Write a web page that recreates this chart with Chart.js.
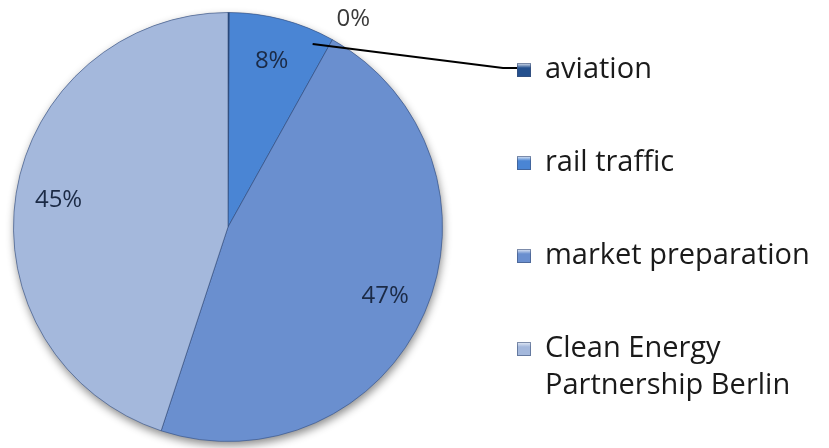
<!DOCTYPE html>
<html>
<head>
<meta charset="utf-8">
<script src="https://cdn.jsdelivr.net/npm/chart.js@4/dist/chart.umd.min.js"></script>
<style>
  html, body { margin: 0; padding: 0; background: #fff; }
  #wrap { width: 829px; height: 448px; }
</style>
</head>
<body>
<div id="wrap"><canvas id="chart" width="829" height="448"></canvas></div>
<script>
// categories and values
const categories = ['aviation', 'rail traffic', 'market preparation', 'Clean Energy Partnership Berlin'];
const legendLines = [['aviation'], ['rail traffic'], ['market preparation'], ['Clean Energy', 'Partnership Berlin']];
const shares = [0.1, 8, 47, 45];
const sliceColors = ['#24508e', '#4a85d4', '#6a8fcf', '#a4b8dc'];

const FONT = '"Open Sans", "DejaVu Sans", sans-serif';

// shadow behind the pie
const pieShadow = {
  id: 'pieShadow',
  beforeDatasetsDraw(chart) {
    const arc = chart.getDatasetMeta(0).data[0];
    if (!arc) return;
    const { x, y, outerRadius } = arc.getProps(['x', 'y', 'outerRadius'], true);
    const ctx = chart.ctx;
    ctx.save();
    ctx.shadowColor = 'rgba(0,0,0,0.45)';
    ctx.shadowBlur = 9;
    ctx.shadowOffsetX = 1;
    ctx.shadowOffsetY = 4;
    ctx.fillStyle = '#8ea6cf';
    ctx.beginPath();
    ctx.arc(x, y, outerRadius, 0, Math.PI * 2);
    ctx.fill();
    ctx.restore();
  }
};

// percent labels, custom legend and leader line
const pieLabels = {
  id: 'pieLabels',
  afterDatasetsDraw(chart) {
    const ctx = chart.ctx;
    const meta = chart.getDatasetMeta(0);
    const total = shares.reduce((a, b) => a + b, 0);
    ctx.save();
    ctx.textAlign = 'center';
    ctx.textBaseline = 'middle';
    ctx.font = '24px ' + FONT;
    meta.data.forEach((arc, i) => {
      const p = arc.getProps(['x', 'y', 'startAngle', 'endAngle', 'outerRadius'], true);
      const pct = Math.round(shares[i] / total * 100);
      let mid = (p.startAngle + p.endAngle) / 2;
      let r = p.outerRadius * 0.8;
      ctx.fillStyle = '#1b2a45';
      if (pct === 0) {
        // tiny slice: label goes outside
        mid += 0.54;
        r = p.outerRadius * 1.13;
        ctx.fillStyle = '#3a3a3a';
      }
      ctx.fillText(pct + '%', p.x + Math.cos(mid) * r, p.y + Math.sin(mid) * r);
    });

    // legend
    const lx = 517, size = 14;
    let ly = 70;
    ctx.textAlign = 'left';
    ctx.font = '29px ' + FONT;
    const markerPos = [];
    legendLines.forEach((lines, i) => {
      const g = ctx.createLinearGradient(lx, ly - size / 2, lx, ly + size / 2);
      g.addColorStop(0, '#e8eef8');
      g.addColorStop(0.35, sliceColors[i]);
      g.addColorStop(1, sliceColors[i]);
      ctx.fillStyle = g;
      ctx.fillRect(lx, ly - size / 2, size, size);
      ctx.strokeStyle = 'rgba(60,80,120,0.6)';
      ctx.lineWidth = 1;
      ctx.strokeRect(lx + 0.5, ly - size / 2 + 0.5, size - 1, size - 1);
      markerPos.push({ x: lx, y: ly });
      ctx.fillStyle = '#1a1a1a';
      lines.forEach((t, k) => ctx.fillText(t, lx + 28, ly + k * 37));
      ly += 93;
    });

    // leader line from the rail slice edge to the aviation legend marker
    const a0 = meta.data[0].getProps(['x', 'y', 'startAngle', 'endAngle', 'outerRadius'], true);
    const ang = (a0.startAngle + a0.endAngle) / 2 + 0.43;
    const sx = a0.x + Math.cos(ang) * a0.outerRadius * 0.94;
    const sy = a0.y + Math.sin(ang) * a0.outerRadius * 0.94;
    ctx.strokeStyle = '#000';
    ctx.lineWidth = 2;
    ctx.beginPath();
    ctx.moveTo(sx, sy);
    ctx.lineTo(markerPos[0].x - 14, markerPos[0].y - 2);
    ctx.lineTo(markerPos[0].x, markerPos[0].y - 2);
    ctx.stroke();
    ctx.restore();
  }
};

new Chart(document.getElementById('chart'), {
  type: 'pie',
  data: {
    labels: categories,
    datasets: [{
      data: shares,
      backgroundColor: sliceColors,
      borderColor: 'rgba(45,70,115,0.55)',
      borderWidth: 1
    }]
  },
  options: {
    responsive: false,
    animation: false,
    layout: { padding: { left: 13, right: 386, top: 12, bottom: 6 } },
    plugins: {
      legend: { display: false },
      tooltip: { enabled: false }
    }
  },
  plugins: [pieShadow, pieLabels]
});
</script>
</body>
</html>
